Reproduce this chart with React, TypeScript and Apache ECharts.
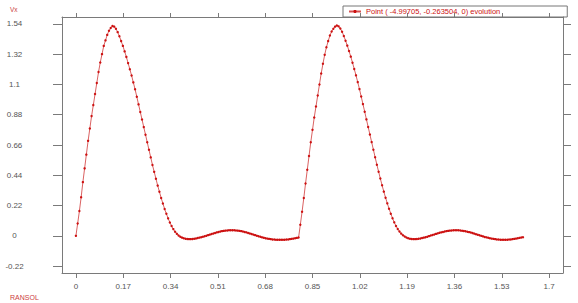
import React, { useEffect, useRef } from "react";
import * as echarts from "echarts";

// Sampling step of the solver output (seconds)
const timeStep = 0.00625;

// Vx values, first cycle (t = 0 … 0.8)
const vxFirstCycle = [
  0, 0.09, 0.18, 0.28, 0.39, 0.49, 0.59, 0.69, 0.78, 0.87, 0.95, 1.03, 1.11, 1.19, 1.26, 1.32, 1.38, 1.42, 1.46, 1.49, 1.51, 1.525,
  1.52, 1.505, 1.48, 1.45, 1.415, 1.38, 1.34, 1.3, 1.255, 1.21, 1.165, 1.115, 1.065, 1.01, 0.955, 0.9, 0.845, 0.79, 0.735, 0.68,
  0.625, 0.57, 0.515, 0.465, 0.415, 0.365, 0.32, 0.275, 0.235, 0.195, 0.16, 0.127, 0.097, 0.071, 0.049, 0.03, 0.015, 0.003,
  -0.006, -0.013, -0.018, -0.021, -0.023, -0.024, -0.024, -0.023, -0.021, -0.019, -0.016, -0.013, -0.01, -0.006, -0.003,
  0.001, 0.005, 0.009, 0.013, 0.017, 0.021, 0.025, 0.028, 0.031, 0.034, 0.036, 0.038, 0.039, 0.04, 0.041, 0.041, 0.04, 0.039,
  0.038, 0.036, 0.034, 0.031, 0.028, 0.025, 0.021, 0.017, 0.013, 0.009, 0.005, 0.001, -0.003, -0.007, -0.011, -0.014, -0.017,
  -0.02, -0.022, -0.024, -0.026, -0.027, -0.028, -0.029, -0.029, -0.029, -0.029, -0.028, -0.027, -0.026, -0.024, -0.022,
  -0.02, -0.018, -0.015, -0.012,
];

// Vx values, second cycle (t = 0.806 … 1.606)
const vxSecondCycle = [
  0.08, 0.175, 0.275, 0.38, 0.48, 0.58, 0.68, 0.77, 0.86, 0.94, 1.02, 1.1, 1.18, 1.25, 1.315, 1.37, 1.415, 1.455, 1.485, 1.505, 1.52, 1.528,
  1.522, 1.507, 1.483, 1.452, 1.418, 1.382, 1.343, 1.302, 1.258, 1.212,
  1.166, 1.117, 1.066, 1.012, 0.957, 0.902, 0.846, 0.791, 0.736, 0.681,
  0.626, 0.571, 0.517, 0.466, 0.416, 0.367, 0.321, 0.277, 0.236, 0.197,
  0.161, 0.128, 0.098, 0.072, 0.05, 0.031, 0.016, 0.004, -0.005, -0.012,
  -0.017, -0.021, -0.023, -0.024, -0.024, -0.023, -0.021, -0.019, -0.016, -0.013,
  -0.01, -0.006, -0.002, 0.002, 0.006, 0.01, 0.014, 0.018, 0.022, 0.025,
  0.028, 0.031, 0.034, 0.036, 0.038, 0.039, 0.04, 0.041, 0.041, 0.04,
  0.039, 0.037, 0.035, 0.033, 0.03, 0.027, 0.024, 0.02, 0.016, 0.012,
  0.008, 0.004, 0, -0.004, -0.008, -0.011, -0.014, -0.017, -0.02, -0.022,
  -0.024, -0.026, -0.027, -0.028, -0.029, -0.029, -0.029, -0.028, -0.027, -0.026,
  -0.024, -0.022, -0.02, -0.018, -0.015, -0.012, -0.01,
];

const xTicks = [0, 0.17, 0.34, 0.51, 0.68, 0.85, 1.02, 1.19, 1.36, 1.53, 1.7];
const yTicks = [-0.22, 0, 0.22, 0.44, 0.66, 0.88, 1.1, 1.32, 1.54];

const seriesName = "Point ( -4.99705, -0.263504, 0) evolution";
const yTitle = "Vx";
const footerText = "RANSOL";

const FONT = "'Liberation Sans', Arial, Helvetica, sans-serif";
const AXIS_COLOR = "#7a7a7a";
const LABEL_COLOR = "#555555";
const RED = "#cc1111";

export default function App() {
  const ref = useRef<HTMLDivElement>(null);

  useEffect(() => {
    if (!ref.current) return;
    const chart = echarts.init(ref.current, undefined, { renderer: "svg" });
    const vx = vxFirstCycle.concat(vxSecondCycle);
    const data = vx.map((v, i) => [i * timeStep, v]);

    const xBase = {
      type: "value" as const,
      min: -0.05,
      max: 1.75,
      splitLine: { show: false },
      axisLine: { show: true, onZero: false, lineStyle: { color: AXIS_COLOR, width: 1 } },
    };
    const yBase = {
      type: "value" as const,
      min: -0.27,
      max: 1.59,
      splitLine: { show: false },
      axisLine: { show: true, onZero: false, lineStyle: { color: AXIS_COLOR, width: 1 } },
    };

    chart.setOption({
      animation: false,
      backgroundColor: "#ffffff",
      grid: { left: 62, right: 15, top: 17, bottom: 30, containLabel: false },
      legend: {
        show: true,
        left: 343,
        top: 6,
        orient: "horizontal",
        padding: [1, 67, 1, 5],
        itemWidth: 12,
        itemHeight: 4,
        borderColor: "#777777",
        borderWidth: 1,
        backgroundColor: "transparent",
        textStyle: { fontSize: 7.5, color: RED, fontFamily: FONT, lineHeight: 9 },
        data: [seriesName],
      },
      xAxis: [
        {
          ...xBase,
          position: "bottom",
          axisTick: { show: true, inside: false, length: 5, customValues: xTicks, lineStyle: { color: AXIS_COLOR } },
          axisLabel: {
            show: true,
            customValues: xTicks,
            margin: 9,
            fontSize: 8,
            color: LABEL_COLOR,
            fontFamily: FONT,
            formatter: (v: number) => String(v),
          },
        },
        {
          ...xBase,
          position: "top",
          axisTick: { show: true, inside: false, length: 4, customValues: xTicks, lineStyle: { color: AXIS_COLOR } },
          axisLabel: { show: false },
        },
      ],
      yAxis: [
        {
          ...yBase,
          position: "left",
          axisTick: { show: true, inside: false, length: 9, customValues: yTicks, lineStyle: { color: AXIS_COLOR } },
          axisLabel: {
            show: true,
            customValues: yTicks,
            margin: 47.5,
            align: "center",
            fontSize: 8,
            color: LABEL_COLOR,
            fontFamily: FONT,
            formatter: (v: number) => String(v),
          },
        },
        {
          ...yBase,
          position: "right",
          axisTick: { show: true, inside: false, length: 8, customValues: yTicks, lineStyle: { color: AXIS_COLOR } },
          axisLabel: { show: false },
        },
      ],
      series: [
        {
          name: seriesName,
          type: "line",
          xAxisIndex: 0,
          yAxisIndex: 0,
          data,
          symbol: "circle",
          symbolSize: 2.4,
          showSymbol: true,
          showAllSymbol: true,
          lineStyle: { color: "#d65050", width: 0.9 },
          itemStyle: { color: RED },
          emphasis: { disabled: true },
        },
      ],
      graphic: [
        {
          type: "text",
          left: 10,
          top: 6,
          style: { text: yTitle, fontSize: 6.5, fill: "#cc4040", fontFamily: FONT },
        },
        {
          type: "text",
          left: 10,
          top: 294,
          style: { text: footerText, fontSize: 7, fill: "#cc4040", fontFamily: FONT },
        },
      ],
    });
    return () => chart.dispose();
  }, []);

  return (
    <div
      ref={ref}
      style={{ position: "fixed", left: 0, top: 0, width: 578, height: 303, background: "#fff" }}
    />
  );
}
